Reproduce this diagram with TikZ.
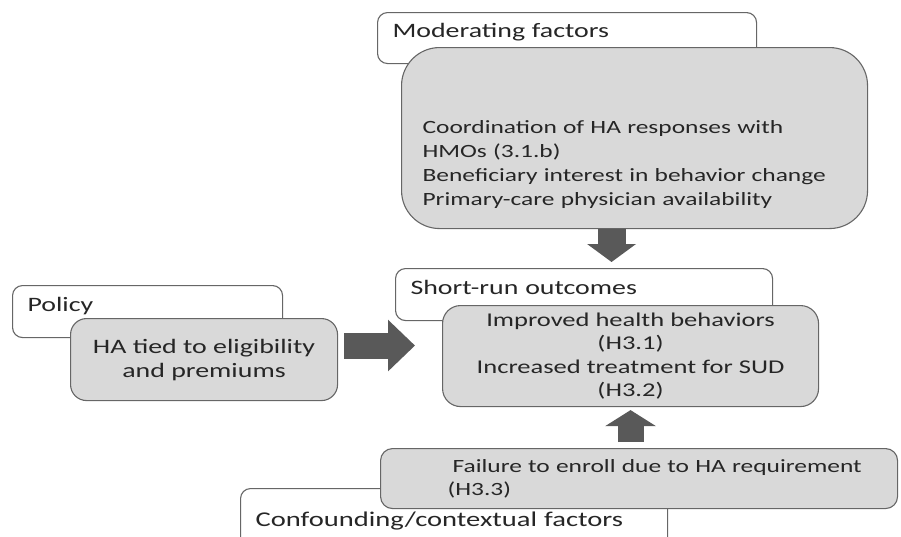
\documentclass[tikz,border=0pt]{standalone}
\usepackage{fontspec}
\setmainfont{Carlito}[FakeStretch=1.36]
\usetikzlibrary{arrows.meta,calc}
\definecolor{boxline}{HTML}{666666}
\definecolor{boxfill}{HTML}{D9D9D9}
\definecolor{arrowfill}{HTML}{595959}
\definecolor{textcol}{HTML}{262626}

\begin{document}
\begin{tikzpicture}[x=1pt, y=-1pt,
    every node/.style={text=textcol},
    titlebox/.style={draw=boxline, line width=1.1pt, fill=white, rounded corners=10pt, anchor=north west, align=left, inner xsep=15pt, inner ysep=0pt, font=\fontsize{20.5}{24}\selectfont},
    bodybox/.style={draw=boxline, line width=1.1pt, fill=boxfill, anchor=north west, inner ysep=0pt, font=\fontsize{19.5}{23.5}\selectfont},
    blockarrow/.style={draw=arrowfill, line width=28pt, -{Triangle[length=18pt, width=48pt]}}
]
\clip (0,0) rectangle (901,536);

% Moderating factors
\node[titlebox, minimum width=379pt, minimum height=51pt, text width=349pt, text depth=15pt] (modtitle) at (377,12) {Moderating factors};
\node[bodybox, rounded corners=38pt, minimum width=466pt, minimum height=181pt, text width=424pt, inner xsep=21pt, align=left, font=\fontsize{18.7}{24}\selectfont] (modbody) at (401,47) {\rule{0pt}{66pt}Coordination of HA responses with\\HMOs (3.1.b)\\Beneficiary interest in behavior change\\Primary-care physician availability};

% Short-run outcomes
\node[titlebox, minimum width=377pt, minimum height=52pt, text width=347pt, text depth=14pt] (outtitle) at (395,268) {Short-run outcomes};
\node[bodybox, rounded corners=18pt, minimum width=376pt, minimum height=101pt, align=center] (outbody) at (442,305) {Improved health behaviors\\(H3.1)\\Increased treatment for SUD\\(H3.2)};

% Policy
\node[titlebox, minimum width=270pt, minimum height=52pt, text width=240pt, text depth=15pt] (poltitle) at (12,285) {Policy};
\node[bodybox, rounded corners=16pt, minimum width=267pt, minimum height=82pt, align=center, font=\fontsize{20.5}{24}\selectfont] (polbody) at (70,318) {HA tied to eligibility\\and premiums};

% Confounding/contextual factors
\node[titlebox, minimum width=427pt, minimum height=65pt, text width=397pt, font=\fontsize{21}{24}\selectfont] (conftitle) at (240,488) {Confounding/contextual factors};
\node[bodybox, rounded corners=12pt, minimum width=517pt, minimum height=60pt, text width=497pt, inner xsep=10pt, align=left, font=\fontsize{18.7}{23.5}\selectfont] (failbody) at (380,448) {\hspace*{62pt}Failure to enroll due to HA requirement\\\hspace*{57pt}(H3.3)};

% Block arrows
\draw[blockarrow, shorten >=6pt] ([xshift=-23pt]modbody.south) -- ([xshift=-23pt]modbody.south |- outtitle.north);
\draw[blockarrow, line width=26pt, -{Triangle[length=27pt, width=50pt]}, shorten <=6pt, shorten >=27pt] ([yshift=14pt]polbody.east) -- ([yshift=14pt]polbody.east -| outbody.west);
\draw[blockarrow, line width=26pt, -{Triangle[length=16pt, width=50pt]}, shorten <=6pt, shorten >=3pt] (failbody.north -| outbody.south) -- (outbody.south);

\end{tikzpicture}
\end{document}
